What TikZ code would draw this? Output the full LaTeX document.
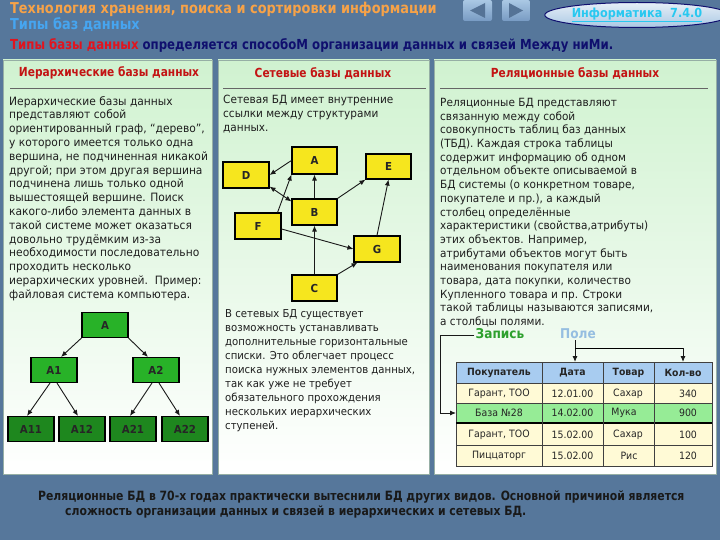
\documentclass[tikz,border=0pt]{standalone}
\usepackage{fontspec}
\setmainfont[FakeStretch=0.93]{DejaVu Sans}
\newfontfamily\titfont[FakeStretch=0.86]{DejaVu Sans Bold}
\newfontfamily\hdfont[FakeStretch=0.85]{DejaVu Sans Bold}
\newfontfamily\labfont[FakeStretch=0.9]{DejaVu Sans Bold}
\usetikzlibrary{arrows.meta,shapes.geometric}
\definecolor{bgblue}{RGB}{86,119,155}
\definecolor{titleorange}{RGB}{246,162,72}
\definecolor{subblue}{RGB}{70,165,240}
\definecolor{hdred}{RGB}{225,20,30}
\definecolor{navy}{RGB}{15,15,110}
\definecolor{darkred}{RGB}{195,20,20}
\definecolor{panelgreen}{RGB}{208,242,208}
\definecolor{paneledge}{RGB}{150,175,165}
\definecolor{treegreen}{RGB}{40,178,40}
\definecolor{treedark}{RGB}{30,135,30}
\definecolor{netyellow}{RGB}{246,230,30}
\definecolor{thead}{RGB}{168,204,240}
\definecolor{tcream}{RGB}{255,250,214}
\definecolor{tgreenrow}{RGB}{150,236,150}
\definecolor{zapgreen}{RGB}{45,160,45}
\definecolor{poleblue}{RGB}{150,190,225}
\definecolor{infocyan}{RGB}{40,200,240}
\definecolor{btnlight}{RGB}{170,200,228}
\definecolor{btndark}{RGB}{120,155,195}
\definecolor{tri}{RGB}{85,115,150}
\definecolor{bodytext}{RGB}{30,30,30}
\begin{document}
\begin{tikzpicture}[x=1pt,y=-1pt,
  panel/.style={top color=panelgreen, bottom color=white, draw=paneledge, line width=0.6pt},
  body/.style={anchor=north west, inner sep=0pt, align=left, text=bodytext, font=\fontsize{11.5}{13.8}\selectfont},
  colhead/.style={inner sep=0pt, text=darkred, font=\hdfont\fontsize{12.5}{14}\selectfont},
  tbox/.style={draw=black, line width=1.1pt, minimum width=46pt, minimum height=25pt, inner sep=0pt, text=black!85, font=\bfseries\fontsize{11}{13}\selectfont},
  nbox/.style={draw=black, line width=1.1pt, fill=netyellow, minimum width=45pt, minimum height=26pt, inner sep=0pt, text=black!85, font=\bfseries\fontsize{11}{13}\selectfont},
  arr/.style={-{Latex[length=6pt,width=5pt]}, line width=0.9pt, draw=black!90},
  cell/.style={inner sep=0pt, text=black!85, font=\fontsize{10.1}{12}\selectfont},
  hcell/.style={inner sep=0pt, text=black!85, font=\bfseries\fontsize{10}{12}\selectfont}
]
\fill[bgblue] (0,0) rectangle (720,540);
\useasboundingbox (0,0) rectangle (720,540);

% header
\node[anchor=base west, inner sep=0pt, text=titleorange, font=\titfont\fontsize{15}{17}\selectfont] (t1) at (10,14) {Технология хранения, поиска и сортировки информации};
\node[anchor=base west, inner sep=0pt, text=subblue, font=\titfont\fontsize{15}{17}\selectfont] (t2) at (10,30) {Типы баз данных};
\node[anchor=base west, inner sep=0pt, text=navy, font=\hdfont\fontsize{13.8}{16}\selectfont] (t3) at (10,50) {\textcolor{hdred}{Типы базы данных} определяется способоМ организации данных и связей Между ниМи.};

% navigation buttons
\shade[top color=btnlight, bottom color=btndark, rounded corners=2pt] (463,0) rectangle (492,21);
\shade[top color=btnlight, bottom color=btndark, rounded corners=2pt] (502,0) rectangle (530,21);
\fill[tri] (470,10.5) -- (485,3) -- (485,18) -- cycle;
\fill[tri] (523,10.5) -- (509,3) -- (509,18) -- cycle;

% info ellipse
\node[ellipse, draw=navy, line width=1pt, top color=white!70!btnlight, bottom color=btnlight, minimum width=162pt, minimum height=25pt, inner sep=0pt, text=infocyan, font=\labfont\fontsize{12.5}{14}\selectfont] (info) at (637,15) {\underline{Информатика\ \ 7.4.0}};

% panels
\path[panel] (3,60) rectangle (212,474);
\path[panel] (218,60) rectangle (429,474);
\path[panel] (434,60) rectangle (716,474);

% column headings
\node[colhead] (h1) at (109,73) {Иерархические базы данных};
\node[colhead] (h2) at (323,73) {Сетевые базы данных};
\node[colhead] (h3) at (575,73) {Реляционные базы данных};
\draw[black!60, line width=0.8pt] (10,88) -- (211,88);
\draw[black!60, line width=0.8pt] (223,88) -- (426,88);
\draw[black!60, line width=0.8pt] (440,88) -- (708,88);

% left text
\node[body] (ltext) at (9,96) {Иерархические базы данных\\
представляют собой\\
ориентированный граф, “дерево”,\\
у которого имеется только одна\\
вершина, не подчиненная никакой\\
другой; при этом другая вершина\\
подчинена лишь только одной\\
вышестоящей вершине. Поиск\\
какого-либо элемента данных в\\
такой системе может оказаться\\
довольно трудёмким из-за\\
необходимости последовательно\\
проходить несколько\\
иерархических уровней.\ \ Пример:\\
файловая система компьютера.};

% tree
\node[tbox, fill=treegreen] (A) at (105,325) {A};
\node[tbox, fill=treegreen] (A1) at (54,370) {A1};
\node[tbox, fill=treegreen] (A2) at (156,370) {A2};
\node[tbox, fill=treedark] (A11) at (31,429) {A11};
\node[tbox, fill=treedark] (A12) at (82,429) {A12};
\node[tbox, fill=treedark] (A21) at (133,429) {A21};
\node[tbox, fill=treedark] (A22) at (185,429) {A22};
\draw[arr] (A.south west) -- ([xshift=7pt]A1.north);
\draw[arr] (A.south east) -- ([xshift=-8pt]A2.north);
\draw[arr] ([xshift=-4pt]A1.south) -- ([xshift=-4pt]A11.north);
\draw[arr] ([xshift=3pt]A1.south) -- ([xshift=-4pt]A12.north);
\draw[arr] ([xshift=-4pt]A2.south) -- ([xshift=-3pt]A21.north);
\draw[arr] ([xshift=3pt]A2.south) -- ([xshift=-5pt]A22.north);

% middle text
\node[body, font=\fontsize{11.3}{13.8}\selectfont] (mtext1) at (223,95) {Сетевая БД имеет внутренние\\
ссылки между структурами\\
данных.};
\node[body, font=\fontsize{10.9}{14}\selectfont] (mtext2) at (225,309) {В сетевых БД существует\\
возможность устанавливать\\
дополнительные горизонтальные\\
списки. Это облегчает процесс\\
поиска нужных элементов данных,\\
так как уже не требует\\
обязательного прохождения\\
нескольких иерархических\\
ступеней.};

% network
\node[nbox, minimum height=27pt] (nA) at (314.5,160.5) {A};
\node[nbox, minimum width=46pt] (nD) at (246,175) {D};
\node[nbox, minimum height=25pt] (nE) at (388.5,166.5) {E};
\node[nbox] (nB) at (314.5,212) {B};
\node[nbox, minimum width=46pt] (nF) at (258,226) {F};
\node[nbox, minimum width=46pt] (nG) at (377,249) {G};
\node[nbox] (nC) at (314.5,288) {C};
\draw[arr] (nA.west) -- (nD.east);
\draw[arr, {Latex[length=6pt,width=5pt]}-{Latex[length=6pt,width=5pt]}] ([yshift=2pt]nD.south east) -- ([yshift=-3pt]nB.north west);
\draw[arr] ([xshift=-4pt]nF.north east) -- (nA.south west);
\draw[arr] (nB.north) -- (nA.south);
\draw[arr] (nB.north east) -- (nE.south west);
\draw[arr] (nC.north) -- (nB.south);
\draw[arr] ([yshift=-3pt]nF.east) -- (nG.west);
\draw[arr] (nC.north east) -- ([xshift=4pt]nG.south west);
\draw[arr] (nG.north) -- (nE.south);

% right text
\node[body, font=\fontsize{11.3}{13.7}\selectfont] (rtext) at (440,98) {Реляционные БД представляют\\
связанную между собой\\
совокупность таблиц баз данных\\
(ТБД). Каждая строка таблицы\\
содержит информацию об одном\\
отдельном объекте описываемой в\\
БД системы (о конкретном товаре,\\
покупателе и пр.), а каждый\\
столбец определённые\\
характеристики (свойства,атрибуты)\\
этих объектов. Например,\\
атрибутами объектов могут быть\\
наименования покупателя или\\
товара, дата покупки, количество\\
Купленного товара и пр. Строки\\
такой таблицы называются записями,\\
а столбцы полями.};

% record / field labels
\node[inner sep=1pt, text=zapgreen, font=\labfont\fontsize{13.5}{15}\selectfont] (zap) at (500,334) {Запись};
\node[inner sep=1pt, text=poleblue, font=\labfont\fontsize{13.5}{15}\selectfont] (pole) at (578,334) {Поле};

% table
\fill[thead] (456,362) rectangle (712,383);
\fill[tcream] (456,383) rectangle (712,403);
\fill[tgreenrow] (456,403) rectangle (712,423);
\fill[tcream] (456,423) rectangle (712,466);
\draw[black!75, line width=0.7pt] (456,362) rectangle (712,466);
\foreach \yy in {383,403,445} \draw[black!75, line width=0.7pt] (456,\yy) -- (712,\yy);
\draw[black, line width=2pt] (456,423) -- (712,423);
\foreach \xx in {542,603,654} \draw[black!75, line width=0.7pt] (\xx,362) -- (\xx,466);

\node[hcell] (c01) at (499,373) {Покупатель};
\node[hcell] (c02) at (572.5,373) {Дата};
\node[hcell] (c03) at (628.5,373) {Товар};
\node[hcell] (c04) at (683,373) {Кол-во};
\node[cell] (c11) at (499,393.5) {Гарант, ТОО};
\node[cell] (c12) at (572.5,393.5) {12.01.00};
\node[cell] (c13) at (628,393.5) {Сахар};
\node[cell] (c14) at (688,393.5) {340};
\node[cell] (c21) at (499,413) {База №28};
\node[cell] (c22) at (572.5,413) {14.02.00};
\node[cell] (c23) at (624,413) {Мука};
\node[cell] (c24) at (688,413) {900};
\node[cell] (c31) at (499,434.5) {Гарант, ТОО};
\node[cell] (c32) at (572.5,434.5) {15.02.00};
\node[cell] (c33) at (628,434.5) {Сахар};
\node[cell] (c34) at (688,434.5) {100};
\node[cell] (c41) at (499,456) {Пиццаторг};
\node[cell] (c42) at (572.5,456) {15.02.00};
\node[cell] (c43) at (629,456) {Рис};
\node[cell] (c44) at (688,456) {120};

\coordinate (rowin) at (456,413);
\coordinate (dtop) at (575,362);
\coordinate (ktop) at (683,362);
\draw[arr] ([yshift=-1pt]zap.west) -- ++(-34,0) |- (rowin);
\draw[arr] (pole.south -| dtop) -- (dtop);
\draw[line width=0.9pt] (575,348) -- (683,348);
\draw[arr] (683,348) -- (ktop);

% bottom text
\node[anchor=base west, inner sep=0pt, text=black!90, font=\hdfont\fontsize{12.75}{15}\selectfont] (b1) at (38,500) {Реляционные БД в 70-х годах практически вытеснили БД других видов. Основной причиной является};
\node[anchor=base west, inner sep=0pt, text=black!90, font=\hdfont\fontsize{12.75}{15}\selectfont] (b2) at (65,515) {сложность организации данных и связей в иерархических и сетевых БД.};
\end{tikzpicture}
\end{document}
